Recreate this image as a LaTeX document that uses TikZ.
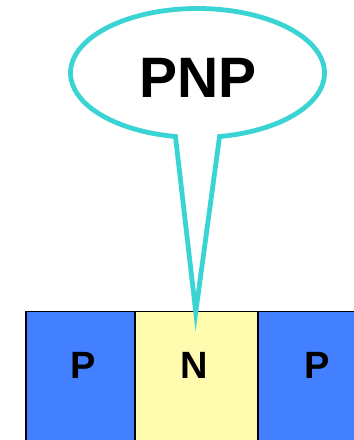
\documentclass[tikz,border=0pt]{standalone}
\usepackage{fontspec}
\setmainfont{Liberation Sans}
\usetikzlibrary{calc}
\definecolor{pblue}{RGB}{66,128,255}
\definecolor{nyellow}{RGB}{255,251,175}
\definecolor{ccyan}{RGB}{58,212,212}
\begin{document}
\begin{tikzpicture}[x=1pt,y=1pt,
  region/.style={draw=black, line width=1.5pt, minimum height=140pt, inner sep=0pt, anchor=north west},
  lbl/.style={font=\bfseries\fontsize{38}{38}\selectfont, anchor=base},
  bubble/.style={draw=ccyan, line width=4.8pt, fill=white, line join=miter}]
\useasboundingbox (0,0) rectangle (354,440);
\clip (0,0) rectangle (354,440);
\node[region, fill=pblue, minimum width=109pt] (p1) at (25,129) {};
\node[region, fill=nyellow, minimum width=123pt] (n) at (134,129) {};
\node[region, fill=pblue, minimum width=120pt] (p2) at (257,129) {};
\node[lbl] (lp1) at (83,61) {P};
\node[lbl] (ln) at (194,61) {N};
\node[lbl] (lp2) at (317,61) {P};
\coordinate (tip) at ($(n.north)+(-0.5,-1)$);
\coordinate (c) at (197.5,367);
\draw[bubble] ($(c)+(-80:127 and 64.5)$) arc[start angle=-80, end angle=260, x radius=127, y radius=64.5] -- (tip) -- cycle;
\node[font=\bfseries\fontsize{57}{57}\selectfont, anchor=base] (pnp) at (198,342) {PNP};
\end{tikzpicture}
\end{document}
